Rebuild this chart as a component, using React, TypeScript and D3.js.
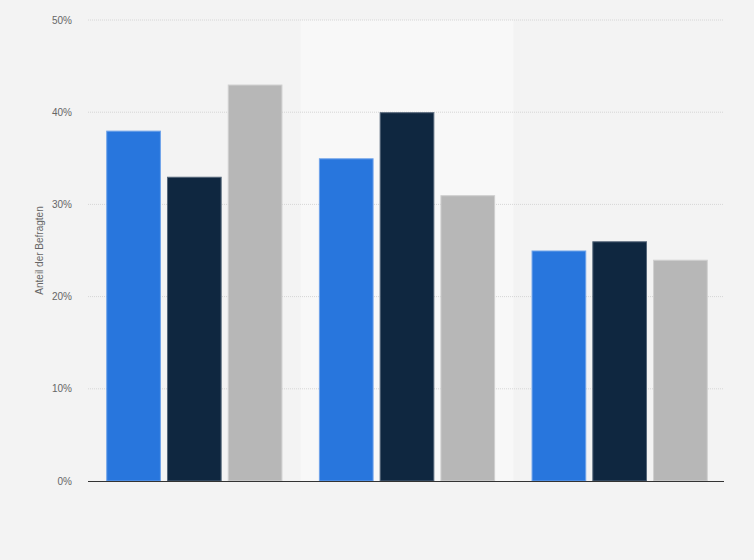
import { useEffect, useRef } from 'react'
import * as d3 from 'd3'

const categories = ['Gruppe 1', 'Gruppe 2', 'Gruppe 3']
const series = ['Serie A', 'Serie B', 'Serie C']
const seriesA = [38, 35, 25]
const seriesB = [33, 40, 26]
const seriesC = [43, 31, 24]
const yTicks = [0, 10, 20, 30, 40, 50]
const colors = ['#2876dd', '#0f2740', '#b7b7b7']
const strokes = ['#6fa3ea', '#56677a', '#d0d0d0']

export default function App() {
  const ref = useRef<SVGSVGElement>(null)

  useEffect(() => {
    if (!ref.current) return
    const svg = d3.select(ref.current)
    svg.selectAll('*').remove()

    const width = 754
    const height = 560
    const left = 88
    const right = 726
    const top = 20
    const bottom = 481
    const font = '"Liberation Sans", Arial, sans-serif'

    svg.append('rect').attr('width', width).attr('height', height).attr('fill', '#f3f3f3')

    const x0 = d3.scaleBand().domain(categories).range([left, right]).padding(0)
    const x1 = d3.scaleBand().domain(series).range([0, x0.bandwidth()]).paddingInner(0.1).paddingOuter(0.3)
    const y = d3.scaleLinear().domain([0, 50]).range([bottom, top])

    // highlighted middle band
    svg.append('rect')
      .attr('x', x0(categories[1])!)
      .attr('y', top)
      .attr('width', x0.bandwidth())
      .attr('height', bottom - top)
      .attr('fill', '#f8f8f8')

    // grid
    svg.append('g')
      .selectAll('line')
      .data(yTicks.filter(d => d > 0))
      .enter()
      .append('line')
      .attr('x1', left)
      .attr('x2', right - 2)
      .attr('y1', d => y(d))
      .attr('y2', d => y(d))
      .attr('stroke', '#d6d6d6')
      .attr('stroke-width', 1)
      .attr('stroke-dasharray', '1,1')

    svg.append('g')
      .selectAll('text')
      .data(yTicks)
      .enter()
      .append('text')
      .attr('x', 72)
      .attr('y', d => y(d))
      .attr('dy', '0.35em')
      .attr('text-anchor', 'end')
      .style('font-family', font)
      .style('font-size', '10px')
      .style('fill', '#666')
      .text(d => `${d}%`)

    svg.append('text')
      .attr('transform', `translate(43,${(top + bottom) / 2}) rotate(-90)`)
      .attr('text-anchor', 'middle')
      .style('font-family', font)
      .style('font-size', '10px')
      .style('fill', '#666')
      .text('Anteil der Befragten')

    const values = [seriesA, seriesB, seriesC]

    series.forEach((s, si) => {
      svg.append('g')
        .selectAll('rect')
        .data(values[si])
        .enter()
        .append('rect')
        .attr('x', (_, i) => x0(categories[i])! + x1(s)! + 0.5)
        .attr('y', d => y(d) + 0.5)
        .attr('width', x1.bandwidth() - 1)
        .attr('height', d => bottom - y(d) - 0.5)
        .attr('fill', colors[si])
        .attr('stroke', strokes[si])
        .attr('stroke-width', 1)
    })

    svg.append('line')
      .attr('x1', left)
      .attr('x2', right - 2)
      .attr('y1', bottom + 0.5)
      .attr('y2', bottom + 0.5)
      .attr('stroke', '#333')
      .attr('stroke-width', 1)
  }, [])

  return (
    <svg
      ref={ref}
      width={754}
      height={560}
      style={{ position: 'absolute', left: 0, top: 0, display: 'block' }}
    />
  )
}
